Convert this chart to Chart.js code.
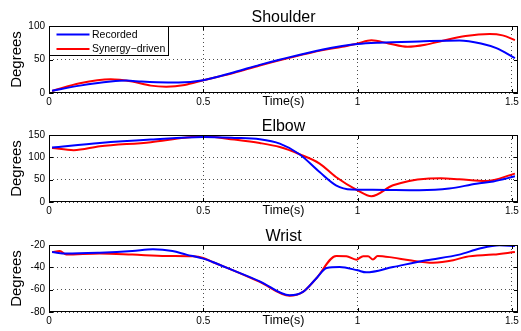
<!DOCTYPE html>
<html><head><meta charset="utf-8">
<script src="https://cdn.jsdelivr.net/npm/chart.js@4/dist/chart.umd.min.js"></script>
<style>
html,body{margin:0;padding:0;background:#fff;}
body{width:521px;height:331px;position:relative;overflow:hidden;}
canvas{position:absolute;left:0;}
</style></head>
<body>
<canvas id="c1" width="521" height="110" style="top:0px"></canvas>
<canvas id="c2" width="521" height="110" style="top:109px"></canvas>
<canvas id="c3" width="521" height="110" style="top:219px"></canvas>
<script>
// ---- data ----
const xTicks = [0, 0.5, 1, 1.5];
const legendLabels = ['Recorded', 'Synergy\u2212driven'];
const titles = ['Shoulder', 'Elbow', 'Wrist'];

const shoulderRecT = [0.01,0.1,0.2,0.25,0.3,0.35,0.42,0.5,0.6,0.683,0.75,0.888,0.95,1.0,1.07,1.2,1.33,1.4,1.45,1.51];
const shoulderRec  = [3.4,11,17,18.5,17,16,15.5,19,31,42,50,65,70,73,75,77,78.5,74,67,52];
const shoulderSynT = [0.01,0.1,0.2,0.27,0.33,0.38,0.44,0.5,0.6,0.683,0.888,0.95,1.0,1.045,1.1,1.162,1.22,1.276,1.35,1.428,1.47,1.51];
const shoulderSyn  = [3,14.5,20.4,17,11,9.5,12,19,30,41,64,69,74,78.6,74,69,72,78,85,88,86,79];

const elbowRecT = [0.01,0.165,0.33,0.5,0.6,0.683,0.748,0.812,0.877,0.93,0.98,1.05,1.2,1.297,1.385,1.44,1.51];
const elbowRec  = [121.8,132,139.7,145.5,143.5,140.4,130.7,107,67,37.4,28,27.5,26.5,30,41,46,57.5];
const elbowSynT = [0.01,0.08,0.165,0.33,0.44,0.5,0.6,0.683,0.748,0.812,0.877,0.93,1.0,1.045,1.115,1.223,1.27,1.33,1.417,1.51];
const elbowSyn  = [121,116,124.7,134,144,147,139.7,132,123,107,86,56,26,12.8,37.4,52.3,53,50.8,47,63.5];

const wristRecT = [0.01,0.056,0.164,0.27,0.337,0.40,0.445,0.5,0.53,0.597,0.683,0.78,0.823,0.866,0.9,0.942,1.0,1.028,1.115,1.223,1.33,1.396,1.46,1.51];
const wristRec  = [-26.3,-27.7,-26.9,-25.4,-23.9,-25.4,-28.6,-32.2,-35.2,-42.7,-52.5,-65,-62,-50,-40.6,-39.7,-42.7,-44.5,-39.7,-33.7,-28.6,-23.2,-20.3,-20.9];
const wristSynT = [0.01,0.035,0.056,0.164,0.27,0.38,0.467,0.5,0.53,0.597,0.683,0.78,0.823,0.866,0.931,0.964,0.996,1.018,1.034,1.05,1.065,1.115,1.169,1.245,1.31,1.35,1.44,1.51];
const wristSyn  = [-26.3,-25.4,-28.6,-27.7,-28.6,-29.8,-30.1,-31.6,-35.2,-42.7,-53.1,-65.5,-62,-50,-29.8,-30.1,-33.1,-30,-30,-33,-29.8,-31.3,-33.7,-35.8,-33.7,-30.7,-28.6,-26.3];

const yRanges = [[0,100,50],[0,150,50],[-80,-20,20]];
// ---------------

const FONT = 'Liberation Sans, Arial, Helvetica, sans-serif';
function pts(t, v){ return t.map((x,i)=>({x:x, y:v[i]})); }

const framePlugin = {
  id:'frame',
  afterDraw(chart){
    const ctx = chart.ctx, a = chart.chartArea, o = chart.options.plugins.frame;
    ctx.save();
    ctx.strokeStyle = '#000'; ctx.lineWidth = 1;
    ctx.beginPath();
    chart.scales.x.ticks.forEach(t=>{
      const px = Math.round(chart.scales.x.getPixelForValue(t.value))+0.5;
      ctx.moveTo(px, a.top); ctx.lineTo(px, a.top+4);
      ctx.moveTo(px, a.bottom); ctx.lineTo(px, a.bottom-4);
    });
    chart.scales.y.ticks.forEach(t=>{
      const py = Math.round(chart.scales.y.getPixelForValue(t.value))+0.5;
      ctx.moveTo(a.left, py); ctx.lineTo(a.left+4, py);
      ctx.moveTo(a.right, py); ctx.lineTo(a.right-4, py);
    });
    ctx.stroke();
    ctx.strokeRect(Math.round(a.left)+0.5, Math.round(a.top)+0.5, Math.round(a.right-a.left)-1, Math.round(a.bottom-a.top)-1);
    ctx.fillStyle = '#000';
    ctx.font = '16px ' + FONT;
    ctx.textAlign = 'center'; ctx.textBaseline = 'alphabetic';
    ctx.fillText(o.title, (a.left+a.right)/2, a.top-4);
    if (o.legend){
      const L = Math.round(a.left)+0.5, T = Math.round(a.top)+0.5;
      ctx.fillStyle = '#fff';
      ctx.fillRect(L, T, 119, 29);
      ctx.strokeRect(L, T, 119, 29);
      const ds = chart.data.datasets;
      ds.forEach((d,i)=>{
        const y = T + 8 + i*14.5;
        ctx.strokeStyle = d.borderColor; ctx.lineWidth = 2;
        ctx.beginPath(); ctx.moveTo(L+7, y); ctx.lineTo(L+40, y); ctx.stroke();
        ctx.fillStyle = '#000'; ctx.font = '10.5px ' + FONT;
        ctx.textAlign = 'left'; ctx.textBaseline = 'middle';
        ctx.fillText(d.label, L+42.5, y+0.5);
      });
    }
    ctx.restore();
  }
};

function makeChart(id, idx, recT, rec, synT, syn){
  const [ymin, ymax, ystep] = yRanges[idx];
  return new Chart(document.getElementById(id), {
    type:'line',
    data:{ datasets:[
      {label:legendLabels[0], data:pts(recT,rec), borderColor:'#0000ff', borderWidth:2, pointRadius:0, cubicInterpolationMode:'monotone', fill:false},
      {label:legendLabels[1], data:pts(synT,syn), borderColor:'#ff0000', borderWidth:2, pointRadius:0, cubicInterpolationMode:'monotone', fill:false}
    ]},
    options:{
      responsive:false, animation:false, devicePixelRatio:1,
      layout:{padding:{top:26, left:0, right:3, bottom:0}},
      plugins:{legend:{display:false}, tooltip:{enabled:false},
        frame:{title:titles[idx], legend: idx===0}},
      scales:{
        x:{type:'linear', min:0, max:1.52,
          afterBuildTicks(s){ s.ticks = xTicks.map(v=>({value:v})); },
          ticks:{includeBounds:false, autoSkip:false, maxRotation:0, padding:3, color:'#000', font:{family:FONT, size:10},
            callback:(v)=>String(v)},
          grid:{color:'rgba(0,0,0,0.7)', drawTicks:false, lineWidth:1},
          border:{display:false, dash:[1,3]},
          title:{display:true, text:'Time(s)', color:'#000', font:{family:FONT, size:12.5}, padding:{top:0, bottom:1}},
          afterFit(s){ s.height = 17; s.paddingLeft = 0; s.paddingRight = 0; }
        },
        y:{min:ymin, max:ymax,
          ticks:{stepSize:ystep, padding:4, color:'#000', font:{family:FONT, size:10}},
          grid:{color:'rgba(0,0,0,0.7)', drawTicks:false, lineWidth:1},
          border:{display:false, dash:[1,3]},
          title:{display:true, text:'Degrees', color:'#000', font:{family:FONT, size:15}, padding:{top:8, bottom:0}},
          afterFit(s){ s.width = 49; }
        }
      }
    },
    plugins:[framePlugin]
  });
}

makeChart('c1', 0, shoulderRecT, shoulderRec, shoulderSynT, shoulderSyn);
makeChart('c2', 1, elbowRecT, elbowRec, elbowSynT, elbowSyn);
makeChart('c3', 2, wristRecT, wristRec, wristSynT, wristSyn);
</script>
</body></html>
